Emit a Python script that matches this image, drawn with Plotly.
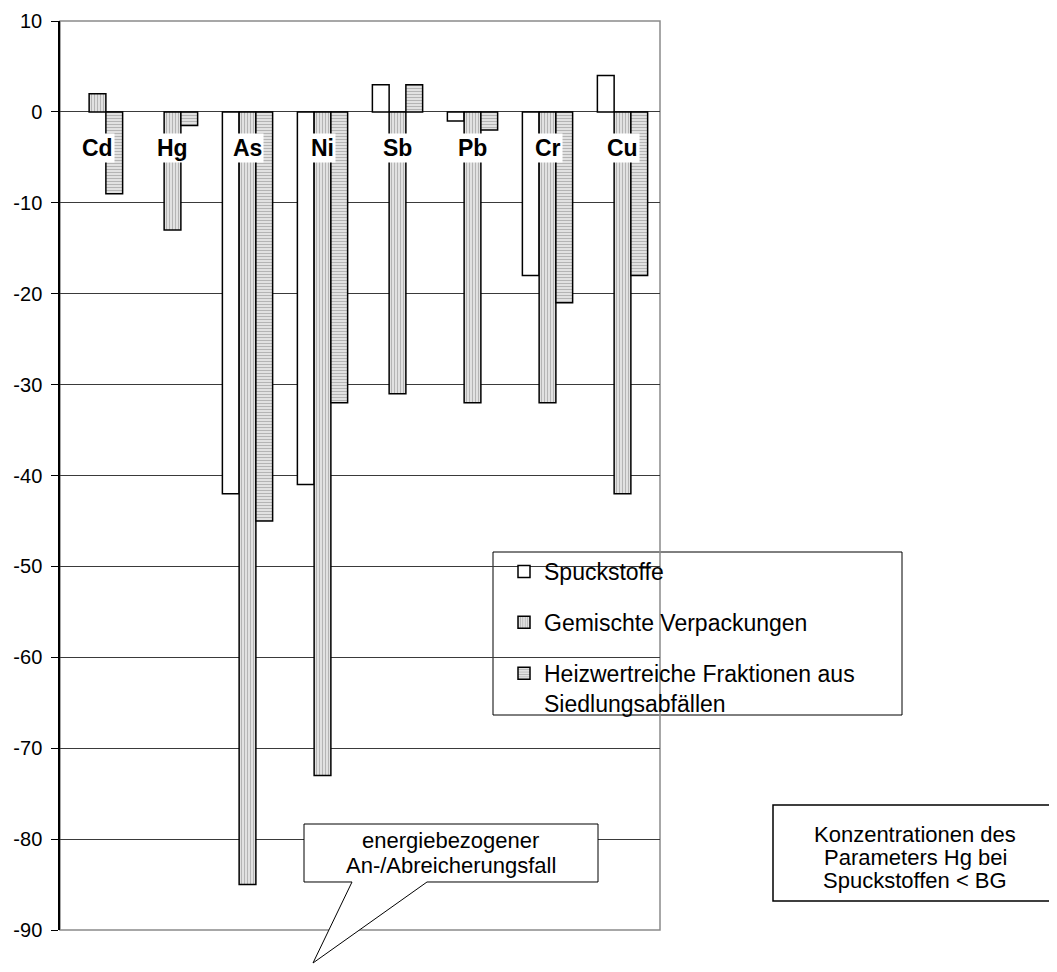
import plotly.graph_objects as go

categories = ["Cd", "Hg", "As", "Ni", "Sb", "Pb", "Cr", "Cu"]
spuckstoffe = [None, None, -42, -41, 3, -1, -18, 4]
gemischte = [2, -13, -85, -73, -31, -32, -32, -42]
heizwert = [-9, -1.5, -45, -32, 3, -2, -21, -18]
series_names = ["Spuckstoffe", "Gemischte Verpackungen",
                "Heizwertreiche Fraktionen aus<br>Siedlungsabfällen"]
y_ticks = [10, 0, -10, -20, -30, -40, -50, -60, -70, -80, -90]
callout_lines = ["energiebezogener", "An-/Abreicherungsfall"]
note_lines = ["Konzentrationen des", "Parameters Hg bei", "Spuckstoffen &lt; BG"]

FONT = "Arial, Liberation Sans, sans-serif"

# plot area in absolute page pixels
L, R, T, B = 60, 660, 21, 930
W, H = 1057, 972
OFF = 8  # page body margin

FIG_W, FIG_H = W - OFF, H - OFF


def px(x):
    return (x - L) / (R - L)


def py(y):
    return (B - y) / (B - T)


fig = go.Figure()
fig.add_trace(go.Bar(
    x=categories, y=spuckstoffe, name=series_names[0], legendgroup="a",
    marker=dict(color="white", line=dict(color="black", width=1.5)),
))
fig.add_trace(go.Bar(
    x=categories, y=gemischte, name=series_names[1], legendgroup="b",
    marker=dict(color="white", line=dict(color="black", width=1.5),
                pattern=dict(shape="|", fgcolor="#7a7a7a", bgcolor="#efefef",
                             size=3, solidity=0.5)),
))
fig.add_trace(go.Bar(
    x=categories, y=heizwert, name=series_names[2], legendgroup="c",
    marker=dict(color="white", line=dict(color="black", width=1.5),
                pattern=dict(shape="-", fgcolor="#7a7a7a", bgcolor="#efefef",
                             size=3, solidity=0.5)),
))

annotations = []
for c in categories:
    annotations.append(dict(
        x=c, y=-4.0, xref="x", yref="y", text="<b>%s</b>" % c,
        showarrow=False, font=dict(family=FONT, size=23, color="black"),
        bgcolor="white", borderpad=1, xanchor="center", yanchor="middle",
    ))

# callout text, one annotation per line
for i, line in enumerate(callout_lines):
    annotations.append(dict(
        x=px(451), y=py(840 + 25 * i), xref="paper", yref="paper",
        xanchor="center", yanchor="middle", text=line, showarrow=False,
        font=dict(family=FONT, size=22, color="black"),
    ))
# right box text
for i, line in enumerate(note_lines):
    annotations.append(dict(
        x=px(915), y=py(834 + 23 * i), xref="paper", yref="paper",
        xanchor="center", yanchor="middle", text=line, showarrow=False,
        font=dict(family=FONT, size=22, color="black"),
    ))

callout = [(304, 824), (598, 824), (598, 882), (427, 882), (313, 963),
           (352, 882), (304, 882)]
path = "M " + " L ".join("%.5f,%.5f" % (px(a), py(b)) for a, b in callout) + " Z"

shapes = [
    # legend box
    dict(type="rect", xref="paper", yref="paper",
         x0=px(493), x1=px(902), y0=py(552), y1=py(715),
         line=dict(color="black", width=1), fillcolor="white", layer="below"),
    dict(type="path", xref="paper", yref="paper", path=path,
         line=dict(color="black", width=1), fillcolor="white", layer="above"),
    dict(type="rect", xref="paper", yref="paper",
         x0=px(773), x1=px(1052), y0=py(805), y1=py(901),
         line=dict(color="black", width=1.5), fillcolor="white"),
    # plot border (gray)
    dict(type="rect", xref="paper", yref="paper", x0=0, x1=1, y0=0, y1=1,
         line=dict(color="#8a8a8a", width=1.5), layer="below"),
]

fig.update_layout(
    width=FIG_W, height=FIG_H,
    margin=dict(l=L - OFF, r=FIG_W - (R - OFF), t=T - OFF, b=FIG_H - (B - OFF),
                pad=0, autoexpand=False),
    paper_bgcolor="white", plot_bgcolor="rgba(0,0,0,0)",
    barmode="group", bargap=0.33, bargroupgap=0,
    font=dict(family=FONT, size=20, color="black"),
    showlegend=True,
    legend=dict(
        x=px(504), y=py(550), xanchor="left", yanchor="top",
        bgcolor="rgba(0,0,0,0)", borderwidth=0,
        traceorder="grouped", tracegroupgap=18, valign="top",
        font=dict(family=FONT, size=23, color="black"),
        itemwidth=30,
    ),
    xaxis=dict(showticklabels=False, showgrid=False, zeroline=False,
               showline=False, ticks="", range=[-0.5, 7.5], automargin=False),
    yaxis=dict(range=[-90, 10], tickvals=y_ticks, ticktext=[str(v) for v in y_ticks],
               showgrid=True, gridcolor="#3a3a3a", gridwidth=1,
               zeroline=True, zerolinecolor="#3a3a3a", zerolinewidth=1,
               showline=True, linecolor="black", linewidth=1.5,
               ticks="outside", ticklen=7, tickcolor="black",
               ticklabelstandoff=5, automargin=False,
               tickfont=dict(family=FONT, size=20), layer="below traces"),
    annotations=annotations,
    shapes=shapes,
)

fig.write_html("out.html")
